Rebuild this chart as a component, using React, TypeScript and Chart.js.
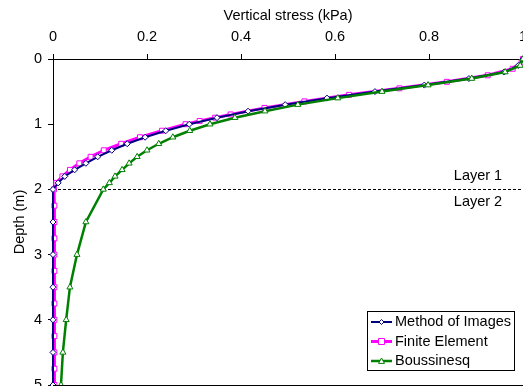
import React, { useEffect, useRef } from 'react';
import { Chart, registerables } from 'chart.js';

Chart.register(...registerables);

const FONT = '"Liberation Sans", Arial, sans-serif';
const FS = 14.5;

const X_TICKS = ['0', '0.2', '0.4', '0.6', '0.8', '1'];
const Y_TICKS = ['0', '1', '2', '3', '4', '5'];

const MOI_DEPTH = [0, 0.1, 0.2, 0.3, 0.4, 0.5, 0.6, 0.7, 0.8, 0.9, 1.0, 1.1, 1.2, 1.3, 1.4, 1.5, 1.6, 1.7, 1.8, 1.9, 2.0, 2.5, 3, 3.5, 4, 4.5, 5];
const MOI_STRESS = [1.0, 0.99, 0.96, 0.885, 0.79, 0.685, 0.583, 0.494, 0.415, 0.349, 0.29, 0.24, 0.196, 0.158, 0.125, 0.095, 0.07, 0.046, 0.025, 0.011, 0.0, 0, 0, 0, 0, 0, 0];

const FE_DEPTH = [0, 0.05, 0.15, 0.25, 0.35, 0.45, 0.55, 0.65, 0.75, 0.85, 0.9, 0.95, 1.0, 1.1, 1.2, 1.3, 1.4, 1.5, 1.6, 1.7, 1.8, 1.9, 2.0, 2.25, 2.5, 2.75, 3, 3.25, 3.5, 3.75, 4, 4.25, 4.5, 4.75, 5];
const FE_STRESS = [1.0, 0.997, 0.978, 0.925, 0.838, 0.737, 0.63, 0.535, 0.45, 0.378, 0.345, 0.312, 0.282, 0.232, 0.185, 0.145, 0.108, 0.08, 0.056, 0.036, 0.02, 0.007, 0.002, 0.003, 0.003, 0.003, 0.003, 0.003, 0.003, 0.003, 0.003, 0.003, 0.003, 0.003, 0.003];

const BOUS_DEPTH = [0, 0.1, 0.2, 0.3, 0.4, 0.5, 0.6, 0.7, 0.8, 0.9, 1.0, 1.1, 1.2, 1.3, 1.4, 1.5, 1.6, 1.7, 1.8, 1.9, 2.0, 2.5, 3, 3.5, 4, 4.5, 5];
const BOUS_STRESS = [1.0, 0.994, 0.962, 0.891, 0.798, 0.7, 0.606, 0.521, 0.451, 0.387, 0.334, 0.291, 0.255, 0.225, 0.2, 0.179, 0.162, 0.147, 0.132, 0.12, 0.107, 0.07, 0.051, 0.036, 0.028, 0.021, 0.017];

const LAYER_BOUNDARY = 2;
const LAYER_LABELS = ['Layer 1', 'Layer 2'];

const SERIES = [
  { label: 'Method of Images', color: '#000080', style: 'rectRot', radius: 3, width: 2 },
  { label: 'Finite Element', color: '#FF00FF', style: 'rect', radius: 3.5, width: 3 },
  { label: 'Boussinesq', color: '#008000', style: 'triangle', radius: 3.5, width: 2.5 },
];

function pts(xs: number[], ys: number[]) {
  return xs.map((x, i) => ({ x, y: ys[i] }));
}

function drawMarker(ctx: CanvasRenderingContext2D, style: string, x: number, y: number, r: number, color: string) {
  ctx.save();
  ctx.beginPath();
  if (style === 'rectRot') {
    ctx.moveTo(x, y - r);
    ctx.lineTo(x + r, y);
    ctx.lineTo(x, y + r);
    ctx.lineTo(x - r, y);
    ctx.closePath();
  } else if (style === 'rect') {
    ctx.rect(x - r, y - r, 2 * r, 2 * r);
  } else {
    ctx.moveTo(x, y - r);
    ctx.lineTo(x + r, y + r * 0.8);
    ctx.lineTo(x - r, y + r * 0.8);
    ctx.closePath();
  }
  ctx.fillStyle = '#ffffff';
  ctx.fill();
  ctx.lineWidth = 1;
  ctx.strokeStyle = color;
  ctx.stroke();
  ctx.restore();
}

const decorPlugin = {
  id: 'decor',
  beforeDatasetsDraw(chart: any) {
    const { ctx, chartArea } = chart;
    const y = chart.scales.y.getPixelForValue(LAYER_BOUNDARY);
    ctx.save();
    ctx.strokeStyle = '#000';
    ctx.lineWidth = 1;
    ctx.setLineDash([3, 2]);
    ctx.beginPath();
    ctx.moveTo(chartArea.left, Math.round(y) + 0.5);
    ctx.lineTo(chartArea.right, Math.round(y) + 0.5);
    ctx.stroke();
    ctx.setLineDash([]);
    ctx.fillStyle = '#000';
    ctx.font = FS + 'px ' + FONT;
    ctx.textAlign = 'center';
    ctx.textBaseline = 'middle';
    ctx.fillText(LAYER_LABELS[0], chartArea.right - 45, y - 13);
    ctx.fillText(LAYER_LABELS[1], chartArea.right - 45, y + 13);
    ctx.restore();
  },
  afterDraw(chart: any) {
    const { ctx, chartArea } = chart;
    ctx.save();
    ctx.strokeStyle = '#000';
    ctx.lineWidth = 1;
    ctx.beginPath();
    ctx.moveTo(chartArea.left, chartArea.bottom + 0.5);
    ctx.lineTo(chartArea.right, chartArea.bottom + 0.5);
    ctx.stroke();
    // legend
    const bx = chartArea.right - 156;
    const by = chartArea.bottom - 74;
    const bw = 147;
    const bh = 59;
    ctx.fillStyle = '#fff';
    ctx.fillRect(bx, by, bw, bh);
    ctx.strokeRect(bx + 0.5, by + 0.5, bw, bh);
    ctx.font = FS + 'px ' + FONT;
    ctx.textAlign = 'left';
    ctx.textBaseline = 'middle';
    SERIES.forEach((s, i) => {
      const ry = by + 11 + i * 19.5;
      ctx.strokeStyle = s.color;
      ctx.lineWidth = s.width;
      ctx.beginPath();
      ctx.moveTo(bx + 4, ry);
      ctx.lineTo(bx + 25, ry);
      ctx.stroke();
      drawMarker(ctx, s.style, bx + 14.5, ry, s.radius - 0.5, s.color);
      ctx.fillStyle = '#000';
      ctx.fillText(s.label, bx + 28, ry);
    });
    ctx.restore();
  },
};

export default function App() {
  const ref = useRef<HTMLCanvasElement>(null);
  useEffect(() => {
    const dataArr = [pts(MOI_STRESS, MOI_DEPTH), pts(FE_STRESS, FE_DEPTH), pts(BOUS_STRESS, BOUS_DEPTH)];
    const orders = [1, 2, 0];
    const chart = new Chart(ref.current as HTMLCanvasElement, {
      type: 'line',
      data: {
        datasets: SERIES.map((s, i) => ({
          label: s.label,
          data: dataArr[i],
          borderColor: s.color,
          borderWidth: s.width,
          pointStyle: s.style as any,
          pointRadius: s.radius,
          pointBorderColor: s.color,
          pointBackgroundColor: '#ffffff',
          pointBorderWidth: 1,
          tension: 0,
          fill: false,
          clip: false as any,
          order: orders[i],
        })),
      },
      options: {
        responsive: false,
        animation: false,
        devicePixelRatio: 1,
        layout: { padding: { left: 0, top: 0, right: 22, bottom: 15 } },
        plugins: { legend: { display: false }, tooltip: { enabled: false } },
        scales: {
          x: {
            type: 'linear',
            position: 'top',
            min: 0,
            max: 1,
            afterFit: (s: any) => { s.height = 59; },
            ticks: {
              stepSize: 0.2,
              color: '#000',
              font: { family: FONT, size: FS },
              padding: 8,
              maxRotation: 0,
              callback: (v: any) => X_TICKS[Math.round(Number(v) * 5)],
            },
            title: {
              display: true,
              text: 'Vertical stress (kPa)',
              color: '#000',
              font: { family: FONT, size: FS },
              padding: { top: 7, bottom: 0 },
            },
            grid: { display: true, drawOnChartArea: false, drawTicks: true, tickLength: 5, color: '#000' },
            border: { display: true, color: '#000', width: 1 },
          },
          y: {
            type: 'linear',
            reverse: true,
            min: 0,
            max: 5,
            afterFit: (s: any) => { s.width = 53; },
            ticks: {
              stepSize: 1,
              color: '#000',
              font: { family: FONT, size: FS },
              padding: 6,
              callback: (v: any) => Y_TICKS[Math.round(Number(v))],
            },
            title: {
              display: true,
              text: 'Depth (m)',
              color: '#000',
              font: { family: FONT, size: FS },
              padding: { top: 11, bottom: 0 },
            },
            grid: { display: true, drawOnChartArea: false, drawTicks: true, tickLength: 5, color: '#000' },
            border: { display: true, color: '#000', width: 1 },
          },
        },
      },
      plugins: [decorPlugin],
    } as any);
    return () => chart.destroy();
  }, []);
  return (
    <div style={{ position: 'fixed', left: 0, top: 0, width: 523, height: 386, overflow: 'hidden', background: '#fff' }}>
      <canvas ref={ref} width={545} height={400} style={{ display: 'block' }} />
    </div>
  );
}
